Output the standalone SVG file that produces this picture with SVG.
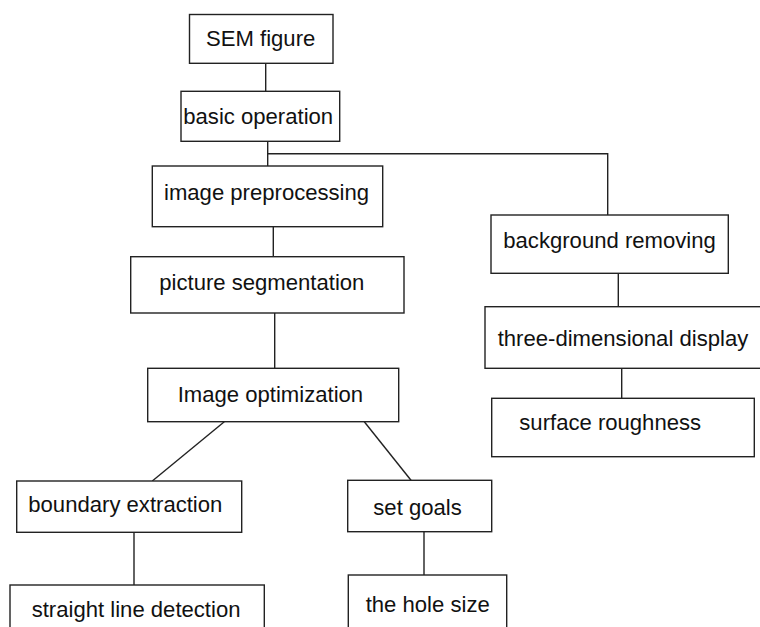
<svg xmlns="http://www.w3.org/2000/svg" width="760" height="627" viewBox="0 0 760 627">
<style>
.box{fill:#fff;stroke:#222;stroke-width:1.4}
.lbl{font-family:"Liberation Sans",Arial,sans-serif;font-size:22.1px;fill:#111}
.con{stroke:#222;stroke-width:1.4;fill:none}
</style>
<rect width="760" height="627" fill="#fff"/>
<g id="connectors">
<line class="con" x1="265.7" y1="63" x2="265.7" y2="91.3"/>
<polyline class="con" points="267.7,141.3 267.7,166"/>
<polyline class="con" points="267.7,153.7 607.7,153.7 607.7,215"/>
<line class="con" x1="273.3" y1="226.7" x2="273.3" y2="256.7"/>
<line class="con" x1="274.7" y1="313" x2="274.7" y2="368.3"/>
<line class="con" x1="224.3" y1="421.7" x2="152.3" y2="481"/>
<line class="con" x1="364.3" y1="421.7" x2="411" y2="480.3"/>
<line class="con" x1="134" y1="532.3" x2="134" y2="585"/>
<line class="con" x1="424" y1="531.7" x2="424" y2="575"/>
<line class="con" x1="618.3" y1="273.3" x2="618.3" y2="306.7"/>
<line class="con" x1="621.7" y1="368.3" x2="621.7" y2="398.3"/>
</g>
<g id="sem"><rect class="box" x="189.5" y="14.5" width="143.5" height="48.8"/><text class="lbl" x="206" y="45.7">SEM figure</text></g>
<g id="basic"><rect class="box" x="181" y="91.3" width="158.7" height="50"/><text class="lbl" x="183.3" y="124">basic operation</text></g>
<g id="preproc"><rect class="box" x="152.3" y="166" width="230.4" height="60.7"/><text class="lbl" x="164" y="200">image preprocessing</text></g>
<g id="seg"><rect class="box" x="130.7" y="256.7" width="273.3" height="56.3"/><text class="lbl" x="159.3" y="290">picture segmentation</text></g>
<g id="opt"><rect class="box" x="147.7" y="368.3" width="251" height="53.4"/><text class="lbl" x="177.7" y="402.3">Image optimization</text></g>
<g id="boundary"><rect class="box" x="16.7" y="481" width="225" height="51.3"/><text class="lbl" x="28.3" y="511.7">boundary extraction</text></g>
<g id="line"><rect class="box" x="10" y="585" width="254.3" height="50"/><text class="lbl" x="31.7" y="616.7">straight line detection</text></g>
<g id="goals"><rect class="box" x="347.7" y="480.3" width="144" height="51.4"/><text class="lbl" x="373.3" y="515">set goals</text></g>
<g id="hole"><rect class="box" x="348.3" y="575" width="158.4" height="60"/><text class="lbl" x="365.7" y="611.7">the hole size</text></g>
<g id="bg"><rect class="box" x="491" y="215" width="237.3" height="58.3"/><text class="lbl" x="503.3" y="248.3">background removing</text></g>
<g id="display3d"><rect class="box" x="485" y="306.7" width="285" height="61.6"/><text class="lbl" x="497.7" y="345.7">three-dimensional display</text></g>
<g id="rough"><rect class="box" x="491.7" y="398.3" width="262.6" height="58.4"/><text class="lbl" x="519.3" y="430">surface roughness</text></g>
</svg>
